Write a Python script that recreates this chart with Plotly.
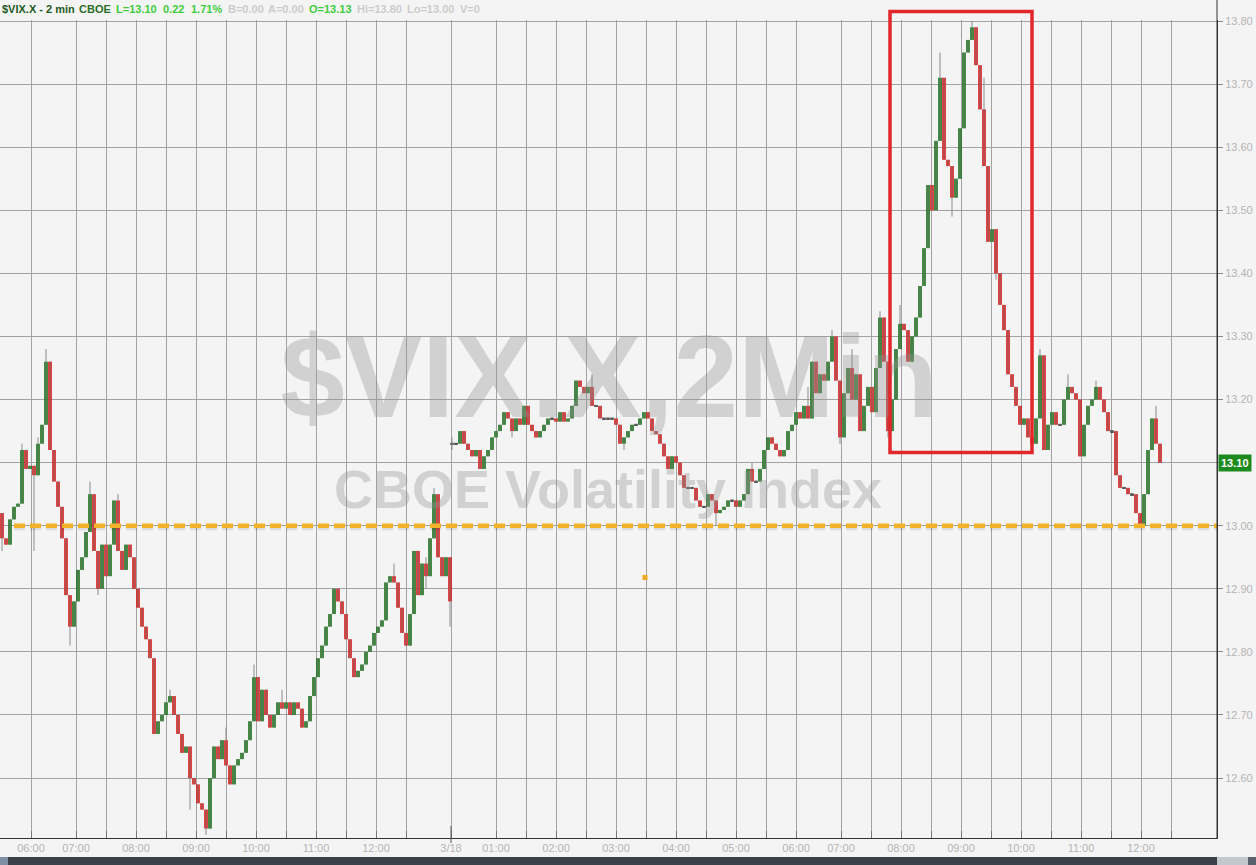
import plotly.graph_objects as go

# ---------------- data ----------------
BAR_MIN = 4  # one candle per 4 minutes of (compressed) session time

# session 1 (3/17) : starts at compressed minute 1
day1_start = 1
day1_open = 13.02
day1_close = [
    12.98, 12.97, 13.01, 13.03, 13.035, 13.12, 13.09, 13.095, 13.08, 13.13,
    13.16, 13.26, 13.12, 13.07, 13.03, 12.98, 12.89, 12.84, 12.88, 12.93,
    12.95, 12.99, 13.05, 12.96, 12.90, 12.97, 12.92, 12.97, 13.04, 12.96,
    12.93, 12.97, 12.95, 12.90, 12.87, 12.84, 12.82, 12.79, 12.67, 12.69,
    12.70, 12.72, 12.73, 12.70, 12.67, 12.64, 12.65, 12.60, 12.59, 12.56,
    12.55, 12.52, 12.60, 12.65, 12.63, 12.66, 12.62, 12.59, 12.62, 12.63,
    12.64, 12.66, 12.69, 12.76, 12.69, 12.74, 12.70, 12.68, 12.70, 12.72,
    12.71, 12.72, 12.70, 12.72, 12.71, 12.68, 12.69, 12.73, 12.76, 12.79,
    12.81, 12.84, 12.86, 12.90, 12.88, 12.86, 12.82, 12.79, 12.76, 12.77,
    12.78, 12.80, 12.81, 12.83, 12.84, 12.85, 12.91, 12.92, 12.91, 12.87,
    12.83, 12.81, 12.86, 12.96, 12.89, 12.94, 12.92, 12.98, 13.05, 12.95,
    12.92, 12.95, 12.88,
]
day1_high = {5: 13.13, 9: 13.14, 11: 13.28, 22: 13.07, 29: 13.05, 42: 12.74,
             56: 12.68, 63: 12.78, 70: 12.74, 98: 12.94, 106: 12.95, 108: 13.06}
day1_low = {0: 12.96, 8: 12.96, 17: 12.81, 24: 12.89, 47: 12.55, 51: 12.51,
            106: 12.90, 112: 12.84}

# session 2 (3/18) : starts at compressed minute 451
day2_start = 451
day2_open = 13.13
day2_close = [
    13.13, 13.13, 13.15, 13.13, 13.12, 13.11, 13.12, 13.09, 13.11, 13.12,
    13.14, 13.15, 13.16, 13.18, 13.17, 13.15, 13.17, 13.16, 13.19, 13.16,
    13.15, 13.14, 13.15, 13.16, 13.17, 13.17, 13.165, 13.18, 13.165, 13.17,
    13.19, 13.23, 13.22, 13.21, 13.22, 13.19, 13.19, 13.17, 13.17, 13.17,
    13.17, 13.16, 13.13, 13.14, 13.15, 13.16, 13.16, 13.17, 13.18, 13.17,
    13.15, 13.145, 13.13, 13.11, 13.09, 13.11, 13.10, 13.08, 13.06, 13.06,
    13.06, 13.04, 13.03, 13.03, 13.05, 13.04, 13.02, 13.025, 13.03, 13.04,
    13.04, 13.03, 13.04, 13.05, 13.09, 13.07, 13.07, 13.09, 13.12, 13.14,
    13.13, 13.12, 13.11, 13.12, 13.15, 13.16, 13.18, 13.17, 13.19, 13.17,
    13.26, 13.21, 13.24, 13.23, 13.26, 13.30, 13.23, 13.14, 13.21, 13.25,
    13.20, 13.24, 13.15, 13.19, 13.22, 13.18, 13.25, 13.33, 13.26, 13.15,
    13.20, 13.28, 13.32, 13.31, 13.26, 13.30, 13.33, 13.38, 13.44, 13.54,
    13.50, 13.61, 13.71, 13.58, 13.57, 13.52, 13.55, 13.63, 13.75, 13.77,
    13.79, 13.73, 13.66, 13.57, 13.45, 13.47, 13.40, 13.35, 13.31, 13.24,
    13.22, 13.19, 13.16, 13.17, 13.14, 13.13, 13.17, 13.27, 13.12, 13.16,
    13.18, 13.16, 13.16, 13.20, 13.22, 13.21, 13.20, 13.11, 13.16, 13.19,
    13.20, 13.22, 13.20, 13.18, 13.15, 13.15, 13.08, 13.06, 13.06, 13.05,
    13.05, 13.02, 13.00, 13.05, 13.12, 13.17, 13.13, 13.10,
]
day2_high = {0: 13.14, 15: 13.17, 35: 13.24, 75: 13.10, 89: 13.22, 95: 13.31,
             100: 13.28, 107: 13.34, 112: 13.35, 122: 13.75, 130: 13.80,
             133: 13.71, 147: 13.28, 154: 13.24, 161: 13.23, 176: 13.19}
day2_low = {0: 13.12, 15: 13.14, 43: 13.12, 66: 13.00, 97: 13.13, 109: 13.14,
            125: 13.49, 136: 13.39}

# x axis ticks (compressed session minutes) and labels
tick_vals = [30, 75, 105, 135, 165, 195, 225, 255, 285, 315, 345, 375, 405,
             450, 495, 525, 555, 585, 615, 645, 675, 705, 735, 765, 795,
             840, 870, 900, 930, 960, 990, 1020, 1050, 1080, 1110, 1140, 1170]
tick_text = ["06:00", "07:00", "", "08:00", "", "09:00", "", "10:00", "", "11:00", "", "12:00", "",
             "3/18", "01:00", "", "02:00", "", "03:00", "", "04:00", "", "05:00", "", "06:00",
             "07:00", "", "08:00", "", "09:00", "", "10:00", "", "11:00", "", "12:00", ""]

# y axis ticks (13.10 is covered by the last-price flag)
y_tick_vals = [12.6, 12.7, 12.8, 12.9, 13.0, 13.1, 13.2, 13.3, 13.4, 13.5, 13.6, 13.7, 13.8]
y_tick_text = ["12.60", "12.70", "12.80", "12.90", "13.00", "", "13.20", "13.30", "13.40",
               "13.50", "13.60", "13.70", "13.80"]

# header quote strip: (text, colour, left pixel)
header_items = [
    ("$VIX.X - 2 min", "#1d5a1d", 1), ("CBOE", "#2a6e2a", 78),
    ("L=13.10", "#3fcc3f", 115), ("0.22", "#3fcc3f", 162), ("1.71%", "#3fcc3f", 190),
    ("B=0.00", "#cccccc", 227), ("A=0.00", "#cccccc", 267), ("O=13.13", "#3fcc3f", 308),
    ("Hi=13.80", "#cccccc", 356), ("Lo=13.00", "#cccccc", 406), ("V=0", "#cccccc", 459),
]

level_line = 13.00          # orange alert line
alert_mark = (644, 12.918)  # small orange marker
last_price = 13.10
highlight_box = (889, 1031, 13.116, 13.815)  # x0, x1, y0, y1

Y_RANGE = [12.505, 13.8016]
X_RANGE = [-1, 1216]

# ---------------- build OHLC ----------------
def build(start, open0, closes, hi, lo):
    xs, o, h, l, c = [], [], [], [], []
    prev = open0
    for i, cl in enumerate(closes):
        op = prev
        xs.append(start + BAR_MIN * i)
        o.append(op)
        c.append(cl)
        h.append(max(hi.get(i, max(op, cl)), op, cl))
        l.append(min(lo.get(i, min(op, cl)), op, cl))
        prev = cl
    return xs, o, h, l, c

x1, o1, h1, l1, c1 = build(day1_start, day1_open, day1_close, day1_high, day1_low)
x2, o2, h2, l2, c2 = build(day2_start, day2_open, day2_close, day2_high, day2_low)
X = x1 + x2
O = o1 + o2
H = h1 + h2
L = l1 + l2
C = c1 + c2

BG = "#f4f4f4"
GREEN = "#137313"
RED = "#e01515"
DOJI = "#555555"
GRID = "#a2a2a2"
LABEL = "#b4b4b4"
FONT = "Liberation Sans, Arial"

fig = go.Figure()

# watermark (drawn first so candles sit on top)
fig.add_trace(go.Scatter(
    x=[608], y=[13.218], mode="text", text=["<b>$VIX.X,2Min</b>"],
    textfont=dict(family=FONT, size=116, color="rgba(150,150,150,0.37)"),
    hoverinfo="skip", showlegend=False))
fig.add_trace(go.Scatter(
    x=[607], y=[13.049], mode="text", text=["<b>CBOE Volatility Index</b>"],
    textfont=dict(family=FONT, size=54, color="rgba(150,150,150,0.37)"),
    hoverinfo="skip", showlegend=False))

# gray wicks
wx, wy = [], []
for xi, hi_, lo_ in zip(X, H, L):
    wx += [xi, xi, None]
    wy += [lo_, hi_, None]
fig.add_trace(go.Scatter(x=wx, y=wy, mode="lines", line=dict(color="#8a8a8a", width=1),
                         hoverinfo="skip", showlegend=False))

# candle bodies as floating bars
MIN_BODY = 0.003
body_base, body_len, body_col = [], [], []
for o, c in zip(O, C):
    lo_b = min(o, c)
    ln = abs(c - o)
    if ln < MIN_BODY:
        body_base.append(lo_b - MIN_BODY / 2)
        body_len.append(MIN_BODY)
        body_col.append(DOJI)
    else:
        body_base.append(lo_b)
        body_len.append(ln)
        body_col.append(GREEN if c > o else RED)
fig.add_trace(go.Bar(x=X, y=body_len, base=body_base, width=3.6,
                     marker=dict(color=body_col, line=dict(width=0)),
                     hoverinfo="skip", showlegend=False))

# orange alert marker
fig.add_trace(go.Scatter(x=[alert_mark[0]], y=[alert_mark[1]], mode="markers",
                         marker=dict(symbol="square", size=5, color="#f0a820"),
                         hoverinfo="skip", showlegend=False))

def to_paper(p):
    return (p - Y_RANGE[0]) / (Y_RANGE[1] - Y_RANGE[0])

PLOT_H = 818.0
PLOT_W = 1217.0
def px_to_paper(py):  # pixel row -> paper fraction (plot spans rows 20..838)
    return (838 - py) / PLOT_H

shapes = []
# orange dashed level with soft shadow
shapes.append(dict(type="line", xref="x", yref="y", x0=13, x1=X_RANGE[1], y0=level_line - 0.004,
                   y1=level_line - 0.004, line=dict(color="rgba(0,0,0,0.10)", width=4, dash="11px,5px"),
                   layer="above"))
shapes.append(dict(type="line", xref="x", yref="y", x0=13, x1=X_RANGE[1], y0=level_line,
                   y1=level_line, line=dict(color="#f2b22a", width=4.5, dash="11px,5px"), layer="above"))
# red highlight rectangle
bx0, bx1, by0, by1 = highlight_box
shapes.append(dict(type="rect", xref="x", yref="paper", x0=bx0, x1=bx1,
                   y0=to_paper(by0), y1=to_paper(by1),
                   line=dict(color="#e2262a", width=3.5), fillcolor="rgba(0,0,0,0)", layer="above"))
# taller date tick
shapes.append(dict(type="line", xref="x", yref="paper", x0=450, x1=450,
                   y0=px_to_paper(826), y1=px_to_paper(843), line=dict(color="#555", width=1)))
# right axis line extending to top
shapes.append(dict(type="line", xref="paper", yref="paper", x0=1, x1=1,
                   y0=0, y1=px_to_paper(0), line=dict(color="#333", width=1)))
# bottom scrollbar strip
sb_y0, sb_y1 = px_to_paper(865), px_to_paper(857)
for (a, b, col) in [(0, 8, "#7f8fa3"), (8, 1217, "#3a4048"), (1217, 1248, "#c3c7ce"), (1248, 1256, "#59616d")]:
    shapes.append(dict(type="rect", xref="paper", yref="paper", x0=a / PLOT_W, x1=b / PLOT_W,
                       y0=sb_y0, y1=sb_y1, line=dict(width=0), fillcolor=col))

annotations = []
for txt, col, left in header_items:
    annotations.append(dict(xref="paper", yref="paper", x=left / PLOT_W, y=1, xanchor="left",
                            yanchor="middle", yshift=11, text="<b>" + txt + "</b>", showarrow=False,
                            font=dict(family=FONT, size=11, color=col), borderpad=0))
annotations.append(dict(xref="paper", yref="y", x=1, y=last_price, xanchor="left", yanchor="middle",
                        xshift=1, text="<b>13.10</b>", showarrow=False, bgcolor="#1c8a1c", borderpad=2,
                        font=dict(family=FONT, size=11, color="white")))

fig.update_layout(
    width=1256, height=865,
    margin=dict(l=0, r=39, t=20, b=27),
    paper_bgcolor=BG, plot_bgcolor=BG,
    showlegend=False,
    shapes=shapes,
    annotations=annotations,
    xaxis=dict(range=X_RANGE, tickmode="array", tickvals=tick_vals, ticktext=tick_text,
               showgrid=True, gridcolor=GRID, gridwidth=1, zeroline=False,
               showline=True, linecolor="#333", linewidth=1,
               ticks="inside", ticklen=7, tickcolor="#777",
               tickfont=dict(family=FONT, size=11, color=LABEL),
               fixedrange=True),
    yaxis=dict(side="right", range=Y_RANGE, tickmode="array", tickvals=y_tick_vals,
               ticktext=y_tick_text,
               showgrid=True, gridcolor=GRID, gridwidth=1, zeroline=False,
               showline=True, linecolor="#333", linewidth=1,
               ticks="outside", ticklen=5, tickcolor="#888",
               tickfont=dict(family=FONT, size=11, color=LABEL),
               fixedrange=True),
)

fig.write_html("out.html", config={"displayModeBar": False},
               post_script="document.body.style.margin='0px';document.body.style.overflow='hidden';")
